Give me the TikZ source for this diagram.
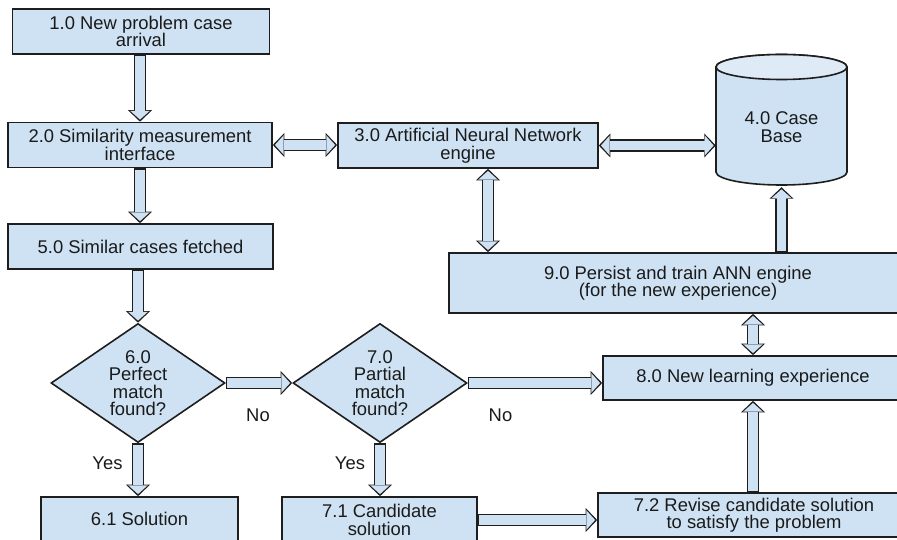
\documentclass[tikz,border=0pt]{standalone}
\usepackage{fontspec}
\setmainfont{Liberation Sans}
\usetikzlibrary{shapes.geometric,arrows.meta,calc}
\pgfdeclarelayer{back}
\pgfdeclarelayer{bg}
\pgfsetlayers{back,bg,main}
\definecolor{boxfill}{HTML}{CFE2F3}
\definecolor{topfill}{HTML}{DEEAF6}
\definecolor{edgec}{HTML}{1E1E1E}
\definecolor{txt}{HTML}{1A1A1A}
\newcommand\blkS[1]{\draw[oS] #1; \draw[iS] #1;}
\newcommand\blkD[1]{\draw[oD] #1; \draw[iD] #1;}
\begin{document}
\begin{tikzpicture}[x=1pt,y=-1pt,
  font=\fontsize{18.4}{17.5}\selectfont, text=txt,
  box/.style={rectangle, draw=edgec, line width=1.6pt, fill=boxfill, inner sep=0pt, align=center},
  dia/.style={diamond, draw=edgec, line width=1.6pt, fill=boxfill, inner sep=0pt, align=center,
              aspect=1.46, minimum width=174pt, minimum height=119pt},
  lbl/.style={inner sep=0pt},
  oS/.style={line width=12.5pt, draw=edgec, -{Triangle[width=24pt,length=11.5pt,line width=0pt]}},
  iS/.style={line width=9.5pt, draw=boxfill, shorten >=2.1pt, shorten <=1.5pt,
             -{Triangle[width=19.6pt,length=8.8pt,line width=0pt]}},
  oD/.style={line width=12.5pt, draw=edgec,
             {Triangle[width=24pt,length=11.5pt,line width=0pt]}-{Triangle[width=24pt,length=11.5pt,line width=0pt]}},
  iD/.style={line width=9.5pt, draw=boxfill, shorten >=2.1pt, shorten <=2.1pt,
             {Triangle[width=19.6pt,length=8.8pt,line width=0pt]}-{Triangle[width=19.6pt,length=8.8pt,line width=0pt]}},
]
\useasboundingbox (0,0) rectangle (897,540);
\begin{pgfonlayer}{back}
\fill[white] (0,0) rectangle (897,540);
\end{pgfonlayer}

% boxes
\node[box, minimum width=257pt, minimum height=45pt] (b1) at (141,31.5) {1.0 New problem case\\arrival};
\node[box, minimum width=264pt, minimum height=45pt] (b2) at (140,145) {2.0 Similarity measurement\\interface};
\node[box, minimum width=260pt, minimum height=45pt] (b3) at (468,145.5) {3.0 Artificial Neural Network\\engine};
\node[box, minimum width=265pt, minimum height=45pt] (b5) at (140.5,246.5) {5.0 Similar cases fetched};
\node[box, minimum width=458pt, minimum height=60pt] (b9) at (678,283) {9.0 Persist and train ANN engine\\(for the new experience)};
\node[box, minimum width=300pt, minimum height=44pt] (b8) at (753,378) {8.0 New learning experience};
\node[box, minimum width=312pt, minimum height=44pt] (b72) at (754,515) {7.2 Revise candidate solution\\to satisfy the problem};
\node[box, minimum width=197pt, minimum height=44pt] (b61) at (139.5,519) {6.1 Solution};
\node[box, minimum width=195pt, minimum height=46pt] (b71) at (379.5,520) {7.1 Candidate\\solution};
\node[dia] (d6) at (138,383) {6.0\\Perfect\\match\\found?};
\node[dia] (d7) at (380,383) {7.0\\Partial\\match\\found?};

% cylinder
\path[draw=edgec, line width=1.6pt, fill=boxfill]
  (716,67) -- (716,172) arc[start angle=180, end angle=360, x radius=65.5pt, y radius=13pt]
  -- (847,67) arc[start angle=0, end angle=180, x radius=65.5pt, y radius=12.5pt] -- cycle;
\draw[edgec, line width=1.6pt, fill=topfill] (781.5,67) ellipse[x radius=65.5pt, y radius=12.5pt];
\node[inner sep=0pt, minimum width=131pt, minimum height=120pt, align=center] (c4) at (781.5,127) {4.0 Case\\Base};

% labels
\node[lbl] (no1) at (258,415) {No};
\node[lbl] (no2) at (500.5,415) {No};
\node[lbl] (yes1) at (107.5,463) {Yes};
\node[lbl] (yes2) at (350,463) {Yes};

% connectors
\begin{pgfonlayer}{bg}
\blkS{(b2.north |- b1.south) -- (b2.north)}
\blkD{(b2.east) -- (b2.east -| b3.west)}
\blkD{(b3.east) -- (b3.east -| c4.west)}
\blkS{(b2.south) -- (b2.south |- b5.north)}
\blkS{(d6.north |- b5.south) -- (d6.north)}
\blkD{([xshift=20pt]b3.south) -- ([xshift=20pt]b3.south |- b9.north)}
\blkS{(c4.south |- b9.north) -- (c4.south)}
\blkD{(b8.north) -- (b8.north |- b9.south)}
\blkS{(d6.east) -- (d7.west)}
\blkS{(d7.east) -- (d7.east -| b8.west)}
\blkS{(d6.south) -- (d6.south |- b61.north)}
\blkS{(d7.south) -- (d7.south |- b71.north)}
\blkS{(b71.east) -- (b71.east -| b72.west)}
\blkS{(b72.north -| b8.south) -- (b8.south)}
\end{pgfonlayer}
\end{tikzpicture}
\end{document}
